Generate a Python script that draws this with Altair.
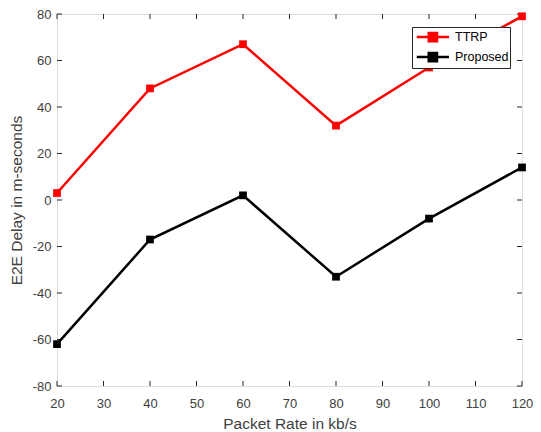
import altair as alt
import pandas as pd

packet_rate = [20, 40, 60, 80, 100, 120]
ttrp = [3, 48, 67, 32, 57, 79]
proposed = [-62, -17, 2, -33, -8, 14]
series_names = ["TTRP", "Proposed"]
series_colors = ["#FF0000", "#000000"]
x_ticks = [20, 30, 40, 50, 60, 70, 80, 90, 100, 110, 120]
y_ticks = [-80, -60, -40, -20, 0, 20, 40, 60, 80]

W, H = 465, 372
TL = 5  # inner tick length

df = pd.DataFrame({
    "rate": packet_rate * 2,
    "delay": ttrp + proposed,
    "series": [series_names[0]] * len(packet_rate) + [series_names[1]] * len(packet_rate),
})

font = "Liberation Sans"
xscale = alt.Scale(domain=[20, 120], nice=False, zero=False)
yscale = alt.Scale(domain=[-80, 80], nice=False, zero=False)

x_enc = alt.X("rate:Q", scale=xscale, title="Packet Rate in kb/s",
              axis=alt.Axis(values=x_ticks, tickSize=0, labelPadding=11, titlePadding=6,
                            grid=False, domain=False, labelFontSize=13, titleFontSize=15.5,
                            labelFont=font, titleFont=font, labelColor="#404040",
                            titleColor="#404040", titleFontWeight="normal",
                            labelFlush=False, labelOverlap=False,
                            labelExpr="'' + datum.value"))
y_enc = alt.Y("delay:Q", scale=yscale, title="E2E Delay in m-seconds",
              axis=alt.Axis(values=y_ticks, tickSize=0, labelPadding=6, titlePadding=8,
                            grid=False, domain=False, labelFontSize=13, titleFontSize=15.5,
                            labelFont=font, titleFont=font, labelColor="#404040",
                            titleColor="#404040", titleFontWeight="normal",
                            labelFlush=False, labelOverlap=False,
                            labelExpr="'' + datum.value"))

color = alt.Color("series:N",
                  scale=alt.Scale(domain=series_names, range=series_colors),
                  legend=alt.Legend(title=None, orient="none", legendX=355, legendY=13,
                                    strokeColor="#262626", fillColor="white",
                                    padding=1, rowPadding=0, labelFont=font, labelFontSize=12.5,
                                    labelColor="#000000",
                                    symbolType="M-0.7,0H3.6M0.9,-0.55H2V0.55H0.9Z",
                                    symbolSize=225, symbolStrokeWidth=2.5,
                                    symbolOpacity=1, labelOffset=24))

lines = alt.Chart(df).mark_line(strokeWidth=2.5).encode(
    x=x_enc, y=y_enc, color=color,
    order=alt.Order("rate:Q"),
)
points = alt.Chart(df).mark_point(shape="square", filled=True, size=60, opacity=1).encode(
    x="rate:Q", y="delay:Q",
    color=alt.Color("series:N", scale=alt.Scale(domain=series_names, range=series_colors), legend=None),
)

xt = pd.DataFrame({"t": x_ticks})
yt = pd.DataFrame({"t": y_ticks})
tick_color = "#262626"
xb = alt.Chart(xt).mark_rule(color=tick_color, strokeWidth=1).encode(
    x=alt.X("t:Q", scale=xscale), y=alt.value(H), y2=alt.value(H - TL))
xtop = alt.Chart(xt).mark_rule(color=tick_color, strokeWidth=1).encode(
    x=alt.X("t:Q", scale=xscale), y=alt.value(0), y2=alt.value(TL))
yl = alt.Chart(yt).mark_rule(color=tick_color, strokeWidth=1).encode(
    y=alt.Y("t:Q", scale=yscale), x=alt.value(0), x2=alt.value(TL))
yr = alt.Chart(yt).mark_rule(color=tick_color, strokeWidth=1).encode(
    y=alt.Y("t:Q", scale=yscale), x=alt.value(W), x2=alt.value(W - TL))

chart = alt.layer(xb, xtop, yl, yr, lines, points).properties(
    width=W, height=H,
    autosize=alt.AutoSizeParams(type="none"),
    padding={"left": 49, "top": 6, "right": 11, "bottom": 46},
).configure_view(stroke="#262626", strokeWidth=1).configure(background="white")

chart.save("out.html", embed_options={"renderer": "svg", "actions": False})
